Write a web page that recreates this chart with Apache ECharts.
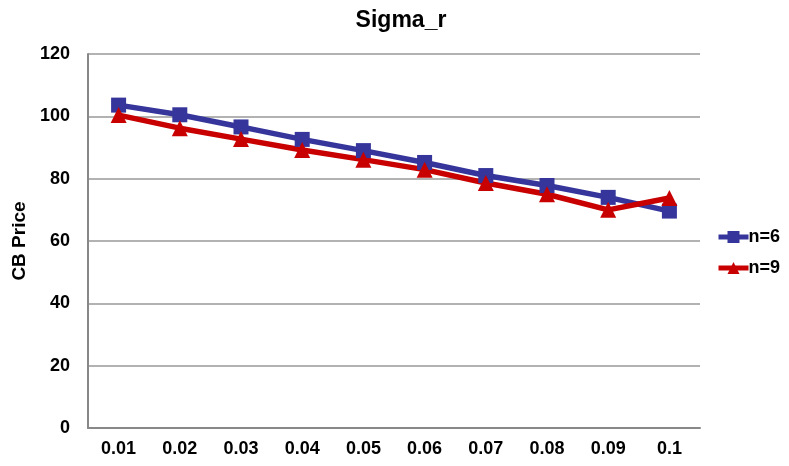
<!DOCTYPE html>
<html><head><meta charset="utf-8">
<script src="https://cdn.jsdelivr.net/npm/echarts@6/dist/echarts.min.js"></script>
<style>html,body{margin:0;padding:0;background:#fff}#c{width:789px;height:466px}</style>
</head><body><div id="c"></div>
<script>
const categories = ['0.01','0.02','0.03','0.04','0.05','0.06','0.07','0.08','0.09','0.1'];
const n6 = [103.6, 100.5, 96.6, 92.6, 89.0, 85.2, 81.0, 77.8, 74.0, 69.6];
const n9 = [100.4, 96.2, 92.7, 89.2, 86.1, 82.9, 78.6, 75.0, 70.0, 73.8];
const yTicks = {min: 0, max: 120, interval: 20};

const font = 'Liberation Sans, Arial, sans-serif';
const chart = echarts.init(document.getElementById('c'), null, {renderer: 'canvas'});
chart.setOption({
  animation: false,
  backgroundColor: '#fff',
  title: {text: 'Sigma_r', left: 396, top: 4, textAlign: 'center',
    textStyle: {fontFamily: font, fontWeight: 'bold', fontSize: 23, color: '#000'}},
  grid: {left: 88, right: 89, top: 54, bottom: 38, containLabel: false},
  legend: {orient: 'vertical', left: 716, top: 228, padding: 0, itemGap: 13, itemWidth: 30, itemHeight: 15,
    lineStyle: {width: 5},
    textStyle: {fontFamily: font, fontWeight: 'bold', fontSize: 18, color: '#000', padding: [0,0,0,-5]},
    data: ['n=6', 'n=9']},
  xAxis: {type: 'category', data: categories, boundaryGap: true,
    axisLine: {lineStyle: {color: '#888', width: 2}}, axisTick: {show: false},
    axisLabel: {fontFamily: font, fontWeight: 'bold', fontSize: 18, color: '#000', margin: 12}},
  yAxis: {type: 'value', min: yTicks.min, max: yTicks.max, interval: yTicks.interval,
    name: 'CB Price', nameLocation: 'middle', nameGap: 57, nameRotate: 90,
    nameTextStyle: {fontFamily: font, fontWeight: 'bold', fontSize: 19, color: '#000'},
    axisLine: {show: true, lineStyle: {color: '#888', width: 2}}, axisTick: {show: false},
    axisLabel: {fontFamily: font, fontWeight: 'bold', fontSize: 18, color: '#000', margin: 18},
    splitLine: {lineStyle: {color: '#999', width: 1.5}}},
  series: [
    {name: 'n=6', type: 'line', data: n6, symbol: 'rect', symbolSize: 15,
      lineStyle: {color: '#35359b', width: 5.5}, itemStyle: {color: '#35359b'}},
    {name: 'n=9', type: 'line', data: n9, symbol: 'triangle', symbolSize: 16,
      lineStyle: {color: '#c80000', width: 5.5}, itemStyle: {color: '#c80000'}}
  ]
});
</script></body></html>
